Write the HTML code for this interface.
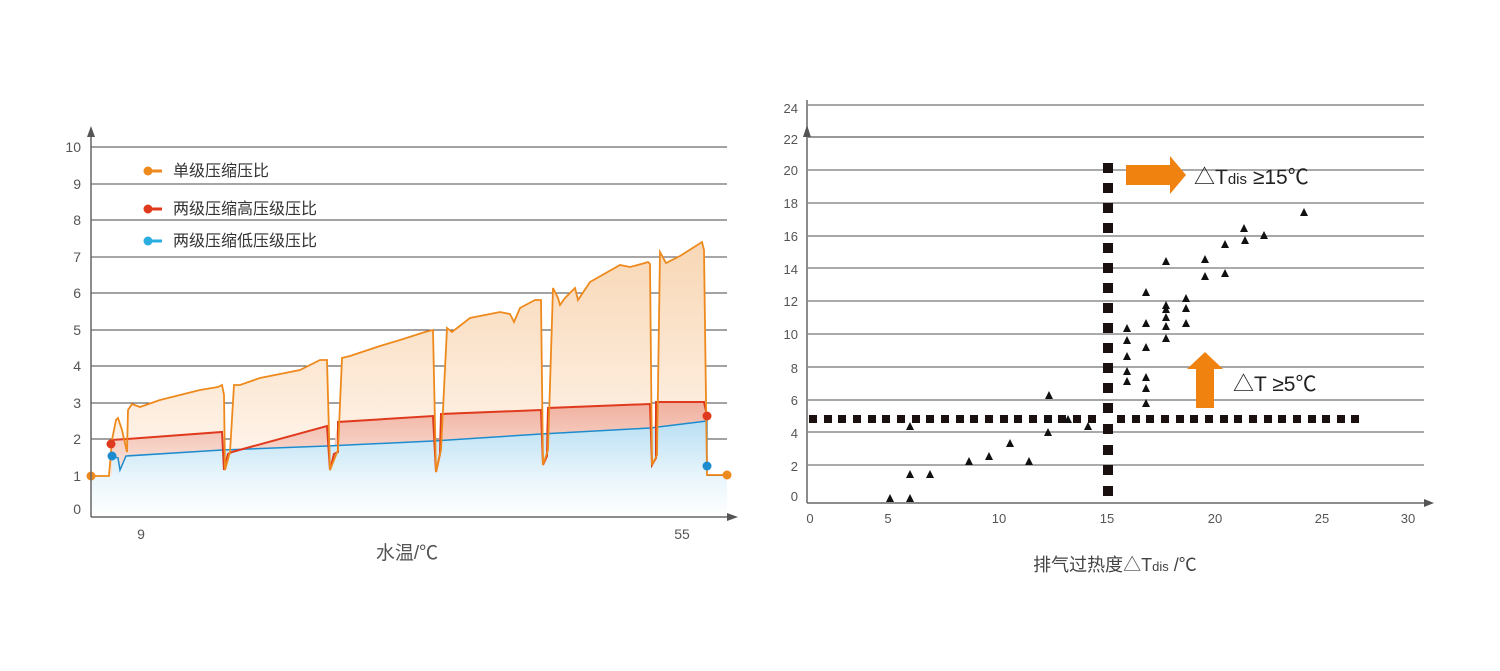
<!DOCTYPE html>
<html><head><meta charset="utf-8"><style>
html,body{margin:0;padding:0;background:#fff;}
svg{display:block;font-family:"Liberation Sans","Noto Sans CJK SC",sans-serif;}
</style></head><body>
<svg width="1500" height="671" viewBox="0 0 1500 671" xmlns="http://www.w3.org/2000/svg">
<defs>
<linearGradient id="go" x1="0" y1="0" x2="0" y2="1"><stop offset="0" stop-color="#f8d7b5"/><stop offset="1" stop-color="#fff6ee"/></linearGradient>
<linearGradient id="gr" x1="0" y1="0" x2="0" y2="1"><stop offset="0" stop-color="#f0b09e"/><stop offset="1" stop-color="#fbe7e0"/></linearGradient>
<linearGradient id="gb" x1="0" y1="0" x2="0" y2="1"><stop offset="0" stop-color="#b9dff3"/><stop offset="0.6" stop-color="#eaf6fc"/><stop offset="1" stop-color="#ffffff"/></linearGradient>
</defs>
<g stroke="#444" stroke-width="1">
<line x1="91" y1="147" x2="727" y2="147"/><line x1="91" y1="184" x2="727" y2="184" stroke="#888" stroke-width="1.5"/>
<line x1="91" y1="220" x2="727" y2="220"/><line x1="91" y1="257" x2="727" y2="257" stroke="#888" stroke-width="1.5"/>
<line x1="91" y1="293" x2="727" y2="293"/><line x1="91" y1="330" x2="727" y2="330"/>
<line x1="91" y1="366" x2="727" y2="366"/><line x1="91" y1="403" x2="727" y2="403"/>
<line x1="91" y1="439" x2="727" y2="439"/><line x1="91" y1="476" x2="727" y2="476"/>
</g>
<path d="M109,476 L112,440 L116,420 L118,418 L122,430 L127,452 L128,410 L132,404 L140,407 L160,400 L200,390 L218,387 L222,385 L224,395 L225,470 L230,452 L234,385 L240,385 L260,378 L300,370 L320,360 L327,360 L330,470 L338,450 L342,358 L350,356 L380,346 L400,340 L425,332 L433,330 L436,472 L441,450 L447,328 L452,332 L470,318 L500,312 L510,314 L514,322 L520,308 L535,300 L541,300 L543,465 L548,450 L553,288 L558,298 L560,305 L565,298 L575,288 L578,300 L590,282 L620,265 L630,267 L645,263 L648,262 L650,264 L652,465 L657,455 L660,252 L666,263 L680,256 L702,242 L704,250 L707,402 L707,476 Z" fill="url(#go)"/>
<path d="M111,440 L222,432 L225,470 L230,452 L327,426 L330,470 L338,422 L433,416 L436,472 L441,414 L541,410 L543,465 L548,408 L650,404 L652,465 L656,402 L704,402 L707,420 L707,476 L111,476 Z" fill="url(#gr)"/>
<path d="M91,476 L112,476 L112,456 L118,458 L120,470 L126,456 L222,450 L327,446 L433,441 L541,434 L650,428 L707,421 L707,476 L727,476 L727,517 L91,517 Z" fill="url(#gb)"/>
<polyline fill="none" stroke="#1d8ccf" stroke-width="1.5" points="112,456 118,458 120,470 126,456 222,450 327,446 433,441 541,434 650,428 707,421 707,466"/>
<polyline fill="none" stroke="#e03a1e" stroke-width="2" points="111,440 127,439 222,432 224,470 228,454 232,452 327,426 330,470 334,454 338,452 338,422 433,416 436,472 440,454 441,414 541,410 543,465 547,456 548,408 650,404 652,465 656,458 656,402 704,402 707,416"/>
<polyline fill="none" stroke="#ee8a1d" stroke-width="1.8" points="91,476 109,476 112,440 116,420 118,418 122,430 127,452 128,410 132,404 140,407 160,400 200,390 218,387 222,385 224,395 225,470 230,452 234,385 240,385 260,378 300,370 320,360 327,360 330,470 338,450 342,358 350,356 380,346 400,340 425,332 433,330 436,472 441,450 447,328 452,332 470,318 500,312 510,314 514,322 520,308 535,300 541,300 543,465 548,450 553,288 558,298 560,305 565,298 575,288 578,300 590,282 620,265 630,267 645,263 648,262 650,264 652,465 657,455 660,252 666,263 680,256 702,242 704,250 707,475 727,475"/>
<circle cx="91" cy="476" r="4.5" fill="#ee8a1d"/><circle cx="727" cy="475" r="4.5" fill="#ee8a1d"/>
<circle cx="111" cy="444" r="4.5" fill="#e03a1e"/><circle cx="707" cy="416" r="4.5" fill="#e03a1e"/>
<circle cx="112" cy="456" r="4.5" fill="#1d8ccf"/><circle cx="707" cy="466" r="4.5" fill="#1d8ccf"/>
<line x1="91" y1="132" x2="91" y2="517" stroke="#666" stroke-width="1.5"/>
<polygon points="87,137 95,137 91,126" fill="#555"/>
<line x1="91" y1="517" x2="730" y2="517" stroke="#666" stroke-width="1.5"/>
<polygon points="727,513 727,521 738,517" fill="#555"/>
<g font-size="14" fill="#555" text-anchor="end">
<text x="81" y="152">10</text><text x="81" y="189">9</text><text x="81" y="225">8</text><text x="81" y="262">7</text><text x="81" y="298">6</text><text x="81" y="335">5</text><text x="81" y="371">4</text><text x="81" y="408">3</text><text x="81" y="444">2</text><text x="81" y="481">1</text><text x="81" y="514">0</text>
</g>
<text x="141" y="539" font-size="14" fill="#555" text-anchor="middle">9</text>
<text x="682" y="539" font-size="14" fill="#555" text-anchor="middle">55</text>
<text x="407" y="559" font-size="19" fill="#555" text-anchor="middle">水温/℃</text>
<g font-size="16" fill="#333">
<line x1="148" y1="171" x2="162" y2="171" stroke="#ee8a1d" stroke-width="3"/><circle cx="148" cy="171" r="4.5" fill="#ee8a1d"/><text x="173" y="176">单级压缩压比</text>
<line x1="148" y1="209" x2="162" y2="209" stroke="#e03a1e" stroke-width="3"/><circle cx="148" cy="209" r="4.5" fill="#e03a1e"/><text x="173" y="214">两级压缩高压级压比</text>
<line x1="148" y1="241" x2="162" y2="241" stroke="#2aaee0" stroke-width="3"/><circle cx="148" cy="241" r="4.5" fill="#2aaee0"/><text x="173" y="246">两级压缩低压级压比</text>
</g>
<g stroke="#555" stroke-width="1">
<line x1="808" y1="105" x2="1424" y2="105" stroke="#888" stroke-width="1.5"/><line x1="808" y1="137" x2="1424" y2="137" stroke="#777" stroke-width="1.5"/>
<line x1="808" y1="170" x2="1424" y2="170"/><line x1="808" y1="203" x2="1424" y2="203"/>
<line x1="808" y1="236" x2="1424" y2="236" stroke="#888" stroke-width="1.5"/><line x1="808" y1="268" x2="1424" y2="268"/>
<line x1="808" y1="301" x2="1424" y2="301"/><line x1="808" y1="334" x2="1424" y2="334"/>
<line x1="808" y1="367" x2="1424" y2="367" stroke="#888" stroke-width="1.5"/><line x1="808" y1="400" x2="1424" y2="400" stroke="#888" stroke-width="1.5"/>
<line x1="808" y1="432" x2="1424" y2="432"/><line x1="808" y1="465" x2="1424" y2="465"/>
</g>
<line x1="807" y1="100" x2="807" y2="503" stroke="#666" stroke-width="1.5"/>
<polygon points="803,137 811,137 807,125" fill="#555"/>
<line x1="807" y1="503" x2="1426" y2="503" stroke="#666" stroke-width="1.5"/>
<polygon points="1424,499 1424,507 1434,503" fill="#555"/>
<g font-size="13" fill="#555" text-anchor="end">
<text x="798" y="113">24</text><text x="798" y="144">22</text><text x="798" y="175">20</text><text x="798" y="208">18</text><text x="798" y="241">16</text><text x="798" y="274">14</text><text x="798" y="306">12</text><text x="798" y="339">10</text><text x="798" y="373">8</text><text x="798" y="405">6</text><text x="798" y="438">4</text><text x="798" y="471">2</text><text x="798" y="501">0</text>
</g>
<g font-size="13" fill="#555" text-anchor="middle">
<text x="810" y="523">0</text><text x="888" y="523">5</text><text x="999" y="523">10</text><text x="1107" y="523">15</text><text x="1215" y="523">20</text><text x="1322" y="523">25</text><text x="1408" y="523">30</text>
</g>
<text x="1115" y="571" font-size="18" fill="#444" text-anchor="middle">排气过热度△T<tspan font-size="13">dis</tspan> /℃</text>
<g fill="#1a1010">
<rect x="809" y="415" width="8" height="8"/><rect x="824" y="415" width="8" height="8"/><rect x="838" y="415" width="8" height="8"/><rect x="853" y="415" width="8" height="8"/><rect x="868" y="415" width="8" height="8"/><rect x="882" y="415" width="8" height="8"/><rect x="897" y="415" width="8" height="8"/><rect x="912" y="415" width="8" height="8"/><rect x="926" y="415" width="8" height="8"/><rect x="941" y="415" width="8" height="8"/><rect x="956" y="415" width="8" height="8"/><rect x="970" y="415" width="8" height="8"/><rect x="985" y="415" width="8" height="8"/><rect x="1000" y="415" width="8" height="8"/><rect x="1014" y="415" width="8" height="8"/><rect x="1029" y="415" width="8" height="8"/><rect x="1044" y="415" width="8" height="8"/><rect x="1058" y="415" width="8" height="8"/><rect x="1073" y="415" width="8" height="8"/><rect x="1088" y="415" width="8" height="8"/><rect x="1117" y="415" width="8" height="8"/><rect x="1132" y="415" width="8" height="8"/><rect x="1146" y="415" width="8" height="8"/><rect x="1161" y="415" width="8" height="8"/><rect x="1176" y="415" width="8" height="8"/><rect x="1190" y="415" width="8" height="8"/><rect x="1205" y="415" width="8" height="8"/><rect x="1220" y="415" width="8" height="8"/><rect x="1234" y="415" width="8" height="8"/><rect x="1249" y="415" width="8" height="8"/><rect x="1264" y="415" width="8" height="8"/><rect x="1278" y="415" width="8" height="8"/><rect x="1293" y="415" width="8" height="8"/><rect x="1308" y="415" width="8" height="8"/><rect x="1322" y="415" width="8" height="8"/><rect x="1337" y="415" width="8" height="8"/><rect x="1351" y="415" width="8" height="8"/>
<rect x="1103" y="163" width="10" height="10"/><rect x="1103" y="183" width="10" height="10"/><rect x="1103" y="203" width="10" height="10"/><rect x="1103" y="223" width="10" height="10"/><rect x="1103" y="243" width="10" height="10"/><rect x="1103" y="263" width="10" height="10"/><rect x="1103" y="283" width="10" height="10"/><rect x="1103" y="303" width="10" height="10"/><rect x="1103" y="323" width="10" height="10"/><rect x="1103" y="343" width="10" height="10"/><rect x="1103" y="363" width="10" height="10"/><rect x="1103" y="383" width="10" height="10"/><rect x="1103" y="403" width="10" height="10"/><rect x="1103" y="424" width="10" height="10"/><rect x="1103" y="445" width="10" height="10"/><rect x="1103" y="465" width="10" height="10"/><rect x="1103" y="486" width="10" height="10"/>
</g>
<g fill="#111">
<polygon points="886,502 894,502 890,494"/><polygon points="906,502 914,502 910,494"/><polygon points="906,478 914,478 910,470"/><polygon points="926,478 934,478 930,470"/><polygon points="906,430 914,430 910,422"/><polygon points="965,465 973,465 969,457"/><polygon points="985,460 993,460 989,452"/><polygon points="1006,447 1014,447 1010,439"/><polygon points="1025,465 1033,465 1029,457"/><polygon points="1045,399 1053,399 1049,391"/><polygon points="1044,423 1052,423 1048,415"/><polygon points="1044,436 1052,436 1048,428"/><polygon points="1064,423 1072,423 1068,415"/><polygon points="1084,430 1092,430 1088,422"/>
<polygon points="1123,332 1131,332 1127,324"/><polygon points="1123,344 1131,344 1127,336"/><polygon points="1123,360 1131,360 1127,352"/><polygon points="1123,375 1131,375 1127,367"/><polygon points="1123,385 1131,385 1127,377"/>
<polygon points="1142,327 1150,327 1146,319"/><polygon points="1142,351 1150,351 1146,343"/><polygon points="1142,381 1150,381 1146,373"/><polygon points="1142,392 1150,392 1146,384"/><polygon points="1142,407 1150,407 1146,399"/><polygon points="1142,296 1150,296 1146,288"/>
<polygon points="1162,265 1170,265 1166,257"/><polygon points="1162,309 1170,309 1166,301"/><polygon points="1162,313 1170,313 1166,305"/><polygon points="1162,321 1170,321 1166,313"/><polygon points="1162,330 1170,330 1166,322"/><polygon points="1162,342 1170,342 1166,334"/>
<polygon points="1182,302 1190,302 1186,294"/><polygon points="1182,312 1190,312 1186,304"/><polygon points="1182,327 1190,327 1186,319"/>
<polygon points="1201,263 1209,263 1205,255"/><polygon points="1201,280 1209,280 1205,272"/><polygon points="1221,248 1229,248 1225,240"/><polygon points="1221,277 1229,277 1225,269"/><polygon points="1240,232 1248,232 1244,224"/><polygon points="1241,244 1249,244 1245,236"/><polygon points="1260,239 1268,239 1264,231"/><polygon points="1300,216 1308,216 1304,208"/>
</g>
<polygon points="1126,165 1170,165 1170,156 1186,175 1170,194 1170,185 1126,185" fill="#f0830f"/>
<polygon points="1196,408 1214,408 1214,369 1223,369 1205,352 1187,369 1196,369" fill="#f0830f"/>
<text x="1194" y="184" font-size="21" fill="#222">△T<tspan font-size="15">dis</tspan> ≥15℃</text>
<text x="1233" y="391" font-size="21" fill="#222">△T  ≥5℃</text>
</svg>
</body></html>
